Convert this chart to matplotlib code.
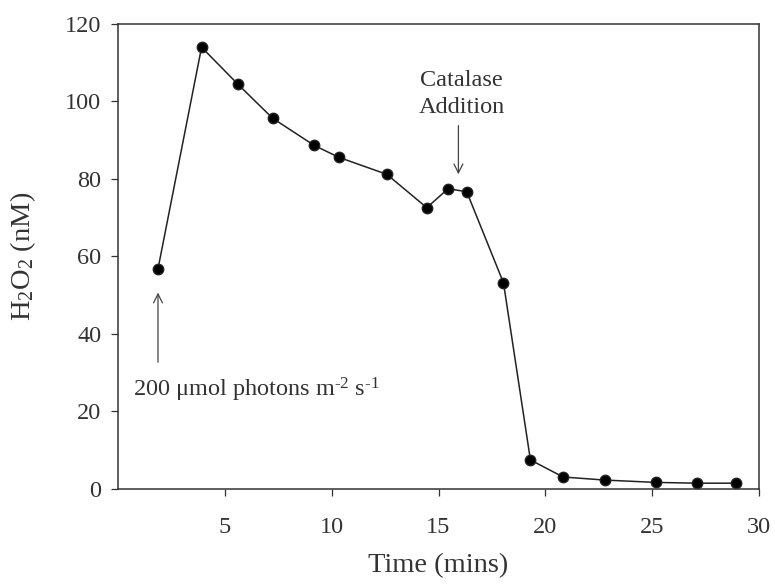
import matplotlib
matplotlib.use('Agg')
import matplotlib.pyplot as plt

# H2O2 time course, light on at ~2 min, catalase added at ~16 min
time_min = [1.87, 3.91, 5.62, 7.23, 9.17, 10.33, 12.58, 14.45, 15.45, 16.32,
            18.04, 19.30, 20.83, 22.79, 25.17, 27.10, 28.94]
h2o2_nM = [56.8, 114.0, 104.4, 95.7, 88.7, 85.6, 81.2, 72.6, 77.5, 76.7,
           53.2, 7.5, 3.1, 2.3, 1.7, 1.5, 1.5]

xticks = [5, 10, 15, 20, 25, 30]
yticks = [0, 20, 40, 60, 80, 100, 120]

plt.rcParams['font.family'] = ['Liberation Serif', 'DejaVu Serif']
plt.rcParams['mathtext.fontset'] = 'custom'
plt.rcParams['mathtext.rm'] = 'Liberation Serif'
plt.rcParams['mathtext.it'] = 'Liberation Serif:italic'
plt.rcParams['font.size'] = 17.5

txt = '#333333'

fig = plt.figure(figsize=(7.75, 5.85), dpi=100)
ax = fig.add_axes([0.1523, 0.1641, 0.8271, 0.7949])

ax.plot(time_min, h2o2_nM, color='#222222', lw=1.1, marker='o',
        markersize=7.5, markerfacecolor='black', markeredgecolor='#222222')

ax.set_xlim(0, 30)
ax.set_ylim(0, 120)
ax.set_xticks(xticks)
ax.set_yticks(yticks)
ax.tick_params(direction='out', length=5, width=0.9, colors=txt,
               labelcolor=txt, labelsize=17.5)
ax.tick_params(axis='x', pad=15)
ax.tick_params(axis='y', pad=7)
for sp in ax.spines.values():
    sp.set_linewidth(1.1)
    sp.set_color(txt)

ax.set_xlabel('Time (mins)', fontsize=20.5, color=txt, labelpad=11)
ax.set_ylabel(r'H$_\mathregular{2}$O$_\mathregular{2}$ (nM)', fontsize=20.5,
              color=txt, labelpad=6)
ax.yaxis.set_label_coords(-0.125, 0.5)

arrow = dict(arrowstyle='->', lw=0.9, color='#444444', mutation_scale=16)
ax.annotate('', xy=(1.87, 51.4), xytext=(1.87, 32), arrowprops=arrow)
ax.text(0.7, 25.5,
        '200 μmol photons m$^{\\mathregular{\u20102}}$ s$^{\\mathregular{\u20101}}$',
        fontsize=17.5, color=txt, ha='left', va='center')

ax.annotate('', xy=(15.93, 80.5), xytext=(15.93, 94.5), arrowprops=arrow)
ax.text(16.07, 102.0, 'Catalase\nAddition', fontsize=17.5, color=txt,
        ha='center', va='center', linespacing=1.35)

fig.savefig('out.png', dpi=100)
